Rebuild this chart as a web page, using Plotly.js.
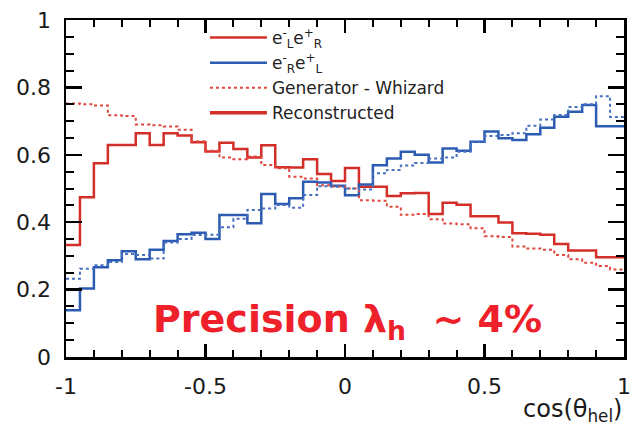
<!DOCTYPE html>
<html>
<head>
<meta charset="utf-8">
<script src="https://cdn.plot.ly/plotly-3.0.1.min.js"></script>
<style>
  html, body { margin: 0; padding: 0; background: #fff; }
  #chart { width: 635px; height: 433px; }
</style>
</head>
<body>
<div id="chart"></div>
<script>
// cos(theta_hel) histogram: 40 bins over [-1, 1]
const xMin = -1;
const xMax = 1;
const nBins = 40;

// e-_L e+_R : reconstructed and generator (Whizard) distributions
const recoLR = [0.332, 0.474, 0.575, 0.629, 0.629, 0.664, 0.629, 0.664, 0.657, 0.637,
                0.610, 0.636, 0.617, 0.592, 0.628, 0.563, 0.562, 0.587, 0.543, 0.522,
                0.561, 0.505, 0.505, 0.478, 0.486, 0.487, 0.424, 0.458, 0.452, 0.418,
                0.418, 0.399, 0.367, 0.366, 0.363, 0.335, 0.316, 0.316, 0.296, 0.296];
const genLR  = [0.752, 0.750, 0.746, 0.717, 0.715, 0.690, 0.688, 0.684, 0.674, 0.640,
                0.612, 0.592, 0.587, 0.595, 0.570, 0.560, 0.535, 0.530, 0.510, 0.506,
                0.500, 0.465, 0.464, 0.446, 0.422, 0.424, 0.409, 0.396, 0.394, 0.382,
                0.358, 0.356, 0.328, 0.322, 0.318, 0.303, 0.290, 0.280, 0.270, 0.260];

// e-_R e+_L : reconstructed and generator (Whizard) distributions
const recoRL = [0.139, 0.203, 0.266, 0.287, 0.314, 0.290, 0.318, 0.344, 0.364, 0.369,
                0.350, 0.421, 0.421, 0.397, 0.484, 0.454, 0.471, 0.520, 0.518, 0.508,
                0.480, 0.512, 0.569, 0.589, 0.609, 0.600, 0.577, 0.619, 0.612, 0.639,
                0.669, 0.649, 0.644, 0.661, 0.680, 0.713, 0.728, 0.748, 0.685, 0.685];
const genRL  = [0.232, 0.262, 0.272, 0.282, 0.306, 0.303, 0.292, 0.340, 0.350, 0.362,
                0.363, 0.385, 0.410, 0.436, 0.441, 0.451, 0.443, 0.481, 0.507, 0.505,
                0.500, 0.497, 0.545, 0.555, 0.568, 0.576, 0.589, 0.592, 0.609, 0.639,
                0.656, 0.659, 0.664, 0.686, 0.705, 0.718, 0.742, 0.750, 0.774, 0.712];

const xTickVals = [-1, -0.5, 0, 0.5, 1];
const xTickText = ['-1', '-0.5', '0', '0.5', '1'];
const yTickVals = [0, 0.2, 0.4, 0.6, 0.8, 1];
const yTickText = ['0', '0.2', '0.4', '0.6', '0.8', '1'];

const labelLR = 'e<sup>-</sup><sub>L</sub>e<sup>+</sup><sub>R</sub>';
const labelRL = 'e<sup>-</sup><sub>R</sub>e<sup>+</sup><sub>L</sub>';
const labelGen = 'Generator - Whizard';
const labelReco = 'Reconstructed';

const RED = 'rgb(212,46,40)';
const RED_DOT = 'rgb(222,72,62)';
const BLUE = 'rgb(44,92,178)';
const BLUE_DOT = 'rgb(70,112,192)';

const W = 635, H = 433;
const M = {l: 66, r: 11, t: 20, b: 76};
const yMin = 0, yMax = 1;

// step-histogram helper: bin edges + repeated last value, drawn with 'hv'
const binW = (xMax - xMin) / nBins;
const edges = Array.from({length: nBins + 1}, (_, i) => +(xMin + i * binW).toFixed(4));
function steps(vals) { return vals.concat([vals[vals.length - 1]]); }

const traces = [
  { x: edges, y: steps(recoLR), type: 'scatter', mode: 'lines', name: labelLR,
    line: {shape: 'hv', color: RED, width: 2.5}, showlegend: true, legendrank: 1 },
  { x: edges, y: steps(recoRL), type: 'scatter', mode: 'lines', name: labelRL,
    line: {shape: 'hv', color: BLUE, width: 2.5}, showlegend: true, legendrank: 2 },
  { x: edges, y: steps(genLR), type: 'scatter', mode: 'lines', name: labelGen,
    line: {shape: 'hv', color: RED_DOT, width: 2, dash: '3px,3px'}, showlegend: true, legendrank: 3 },
  { x: edges, y: steps(genRL), type: 'scatter', mode: 'lines', name: 'genRL',
    line: {shape: 'hv', color: BLUE_DOT, width: 2, dash: '3px,3px'}, showlegend: false },
  // legend key for the reconstructed (solid) style
  { x: [null], y: [null], type: 'scatter', mode: 'lines', name: labelReco,
    line: {color: RED, width: 3.5}, showlegend: true, legendrank: 4 }
];

// ROOT-style frame: inward major + minor ticks mirrored on all four sides
const axisCommon = {
  showline: true, linecolor: '#000', linewidth: 2.5, mirror: 'allticks',
  ticks: 'inside', tickcolor: '#000', tickwidth: 2.5,
  showgrid: false, zeroline: false, fixedrange: true,
  tickfont: {family: 'DejaVu Sans, sans-serif', size: 22, color: '#1a1a1a'}
};

const layout = {
  width: W, height: H,
  margin: M,
  paper_bgcolor: '#fff', plot_bgcolor: '#fff',
  showlegend: true,
  legend: {
    x: 0.249, y: 1.0, xanchor: 'left', yanchor: 'top',
    bgcolor: 'rgba(0,0,0,0)', borderwidth: 0,
    font: {family: 'DejaVu Sans, sans-serif', size: 17, color: '#222'},
    itemwidth: 57, tracegroupgap: 0, traceorder: 'normal'
  },
  xaxis: Object.assign({}, axisCommon, {
    range: [xMin, xMax], tickmode: 'array', tickvals: xTickVals, ticktext: xTickText,
    ticklen: 13, ticklabelstandoff: 8,
    minor: {tickmode: 'linear', tick0: -1, dtick: 0.1, ticklen: 7, ticks: 'inside',
            tickcolor: '#000', tickwidth: 2}
  }),
  yaxis: Object.assign({}, axisCommon, {
    range: [yMin, yMax], tickmode: 'array', tickvals: yTickVals, ticktext: yTickText,
    ticklen: 16, ticklabelstandoff: 8,
    minor: {tickmode: 'linear', tick0: 0, dtick: 0.05, ticklen: 8, ticks: 'inside',
            tickcolor: '#000', tickwidth: 2}
  }),
  annotations: [
    { xref: 'paper', yref: 'paper', x: 0.505, y: 0.105, xanchor: 'center', yanchor: 'middle',
      text: 'Precision λ<sub>h</sub>&nbsp;&nbsp;~ 4%', showarrow: false,
      font: {family: 'DejaVu Sans, sans-serif', size: 38, color: 'rgb(238,32,42)', weight: 'bold'} },
    { xref: 'paper', yref: 'paper', x: 1.0, y: -0.16, xanchor: 'right', yanchor: 'middle',
      text: 'cos(θ<sub>hel</sub>)', showarrow: false,
      font: {family: 'DejaVu Sans, sans-serif', size: 24, color: '#1a1a1a'} }
  ]
};

Plotly.newPlot('chart', traces, layout, {staticPlot: true, displayModeBar: false});
</script>
</body>
</html>
